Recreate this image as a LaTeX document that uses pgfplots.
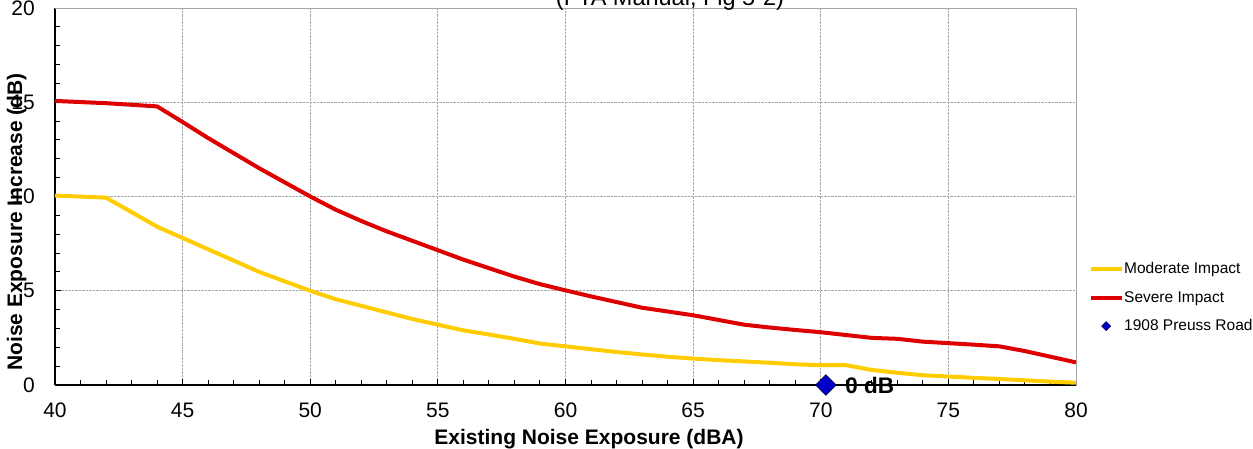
\documentclass[border=0pt]{standalone}
\usepackage{pgfplots}
\pgfplotsset{compat=1.18}
\usepackage{fontspec}
\setmainfont{Liberation Sans}
\definecolor{modY}{RGB}{255,204,0}
\definecolor{sevR}{RGB}{222,0,0}
\definecolor{ptB}{RGB}{0,0,200}
\definecolor{ptO}{RGB}{0,0,90}
\begin{document}
\begin{tikzpicture}[x=1pt,y=1pt]
\useasboundingbox (0,0) rectangle (1253,448);
\begin{axis}[
  at={(55pt,63pt)}, anchor=south west,
  scale only axis, width=1021pt, height=377pt,
  xmin=40, xmax=80, ymin=0, ymax=20,
  xtick={40,45,...,80}, ytick={0,5,...,20},
  minor xtick={41,42,43,44,46,47,48,49,51,52,53,54,56,57,58,59,61,62,63,64,66,67,68,69,71,72,73,74,76,77,78,79},
  minor ytick={1,2,3,4,6,7,8,9,11,12,13,14,16,17,18,19},
  axis lines*=left,
  axis line style={-, black, line width=1.6pt},
  tick align=inside,
  major tick length=6pt, minor tick length=5pt,
  every tick/.style={black, line width=1pt},
  grid=major,
  grid style={gray!70, densely dotted, line width=0.8pt},
  clip=false,
  /pgf/number format/assume math mode=true,
  tick label style={font=\fontsize{21}{25}\selectfont, inner sep=0pt},
  xticklabel style={anchor=north, yshift=-18pt},
  yticklabel style={anchor=east, xshift=-20pt},
  legend style={at={(1.0127,0.325)}, anchor=north west, draw=none, fill=none,
    font=\fontsize{15.5}{18}\selectfont, inner sep=0pt, row sep=16pt,
    nodes={inner sep=0pt}},
  legend cell align=left,
  legend image code/.code={\draw[#1, mark=none] (0pt,0pt) -- (31pt,0pt);},
]
\draw[gray!70, line width=0.8pt] (rel axis cs:0,1) -- (rel axis cs:1,1) -- (rel axis cs:1,0);
\addplot[modY, line width=4pt, line join=round] coordinates {
(40,10.05)(42,9.94)(44,8.4)(45,7.8)(46,7.2)(47,6.6)(48,6.0)(49,5.5)(50,5.0)
(51,4.55)(52,4.2)(53,3.85)(54,3.5)(55,3.2)(56,2.9)(57,2.68)(58,2.45)(59,2.2)
(60,2.05)(61,1.9)(62,1.75)(63,1.62)(64,1.5)(65,1.4)(66,1.32)(67,1.25)(68,1.18)
(69,1.1)(70,1.05)(71,1.05)(72,0.8)(73,0.65)(74,0.52)(75,0.45)(76,0.38)(77,0.32)
(78,0.25)(79,0.18)(80,0.12)};
\addlegendentry{Moderate Impact}
\addplot[sevR, line width=4pt, line join=round] coordinates {
(40,15.07)(42,14.95)(44,14.78)(45,13.95)(46,13.1)(47,12.3)(48,11.5)(49,10.75)
(50,10.0)(51,9.3)(52,8.7)(53,8.15)(54,7.65)(55,7.15)(56,6.65)(57,6.2)(58,5.75)
(59,5.35)(60,5.02)(61,4.7)(62,4.4)(63,4.1)(64,3.9)(65,3.7)(66,3.45)(67,3.2)
(68,3.05)(69,2.92)(70,2.8)(71,2.65)(72,2.5)(73,2.45)(74,2.3)(75,2.22)(76,2.14)
(77,2.05)(78,1.8)(79,1.5)(80,1.2)};
\addlegendentry{Severe Impact}
\addplot[only marks, mark=square*, mark size=7.2pt,
  mark options={rotate=45, fill=ptB, draw=ptO, line width=0.8pt},
  nodes near coords={\textbf{0 dB}},
  every node near coord/.style={anchor=west, xshift=19pt, font=\fontsize{22.5}{26}\selectfont, inner sep=0pt},
  legend image code/.code={\draw[mark=square*, mark size=3.2pt, mark options={rotate=45, fill=ptB, draw=ptO, line width=0.5pt}] plot coordinates {(15pt,0pt)};}
] coordinates {(70.2,0)};
\addlegendentry{1908 Preuss Road}
\end{axis}
\node[anchor=base, font=\fontsize{23.5}{28}\selectfont] at (670,442) {(FTA Manual, Fig 5-2)};
\node[anchor=base, font=\bfseries\fontsize{21}{25}\selectfont] at (589,4) {Existing Noise Exposure (dBA)};
\node[anchor=base, rotate=90, font=\bfseries\fontsize{21}{25}\selectfont] at (22,226) {Noise Exposure Increase (dB)};
\end{tikzpicture}
\end{document}
